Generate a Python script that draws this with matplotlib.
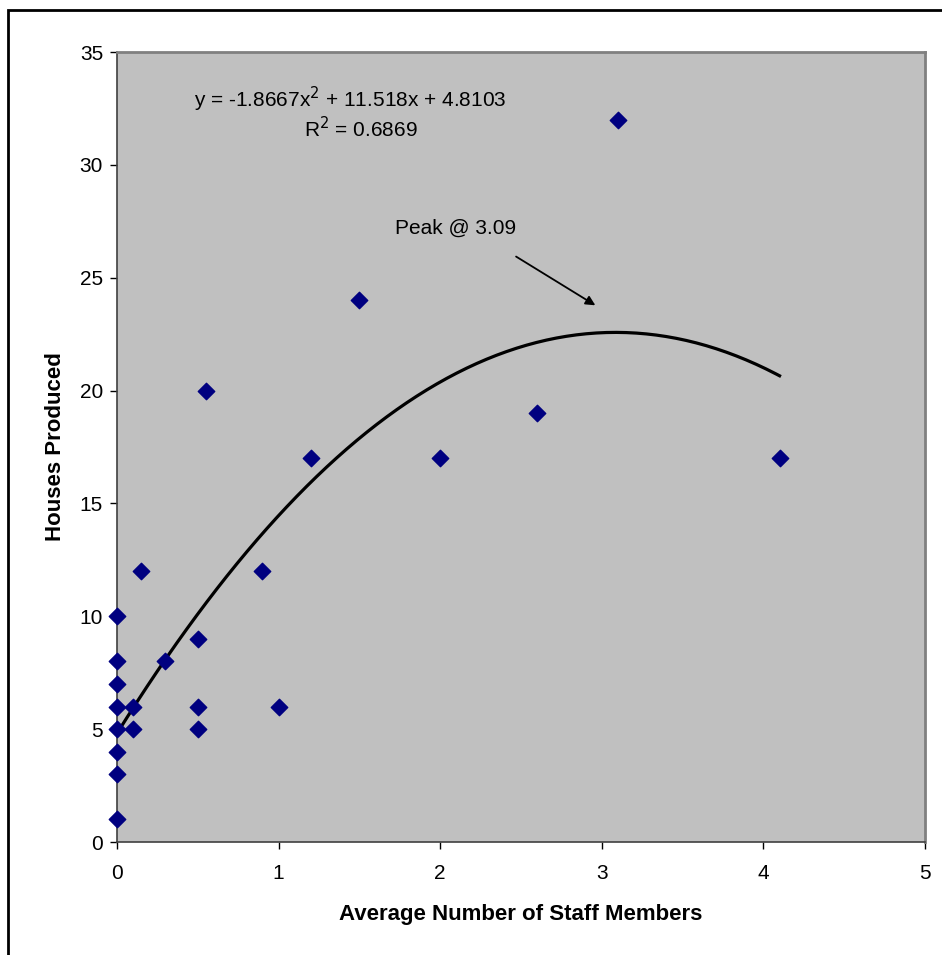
import numpy as np
import matplotlib
matplotlib.use('Agg')
import matplotlib.pyplot as plt
from matplotlib.patches import Rectangle

plt.rcParams['font.family'] = ['Liberation Sans', 'DejaVu Sans']

# staff members vs houses produced
staff = [0, 0, 0, 0, 0, 0, 0, 0, 0.1, 0.1, 0.15, 0.3, 0.5, 0.5, 0.5, 0.55,
         0.9, 1.0, 1.2, 1.5, 2.0, 2.6, 3.1, 4.1]
houses = [10, 8, 7, 6, 5, 4, 3, 1, 6, 5, 12, 8, 9, 6, 5, 20,
          12, 6, 17, 24, 17, 19, 32, 17]

# trendline coefficients (as printed on chart)
coef = [-1.8667, 11.518, 4.8103]
r2 = 0.6869
peak_x = 3.09

fig = plt.figure(figsize=(9.42, 9.55), dpi=100)
ax = fig.add_axes([117 / 942, 113 / 955, 808 / 942, 790 / 955])
ax.set_facecolor('#C0C0C0')

ax.scatter(staff, houses, marker='D', s=70, color='#000080', zorder=3,
           clip_on=False)

xs = np.linspace(0, max(staff), 200)
ax.plot(xs, np.polyval(coef, xs), color='black', lw=2.3, zorder=2)

ax.set_xlim(0, 5)
ax.set_ylim(0, 35)
ax.set_xticks(range(0, 6))
ax.set_yticks(range(0, 36, 5))
ax.tick_params(direction='out', length=5, width=1, labelsize=15, pad=11,
               colors='black')
ax.tick_params(axis='y', pad=5)

for side in ['top', 'right']:
    ax.spines[side].set_color('#808080')
    ax.spines[side].set_linewidth(2)
for side in ['left', 'bottom']:
    ax.spines[side].set_color('#404040')
    ax.spines[side].set_linewidth(1.2)

ax.set_xlabel('Average Number of Staff Members', fontsize=16, fontweight='bold',
              labelpad=15)
ax.set_ylabel('Houses Produced', fontsize=16, fontweight='bold', labelpad=10)

ax.text(1.44, 32.9, 'y = %.4fx$^2$ + %.3fx + %.4f' % (coef[0], coef[1], coef[2]),
        fontsize=15, ha='center', va='center')
ax.text(1.51, 31.6, 'R$^2$ = %.4f' % r2, fontsize=15, ha='center', va='center')

peak_y = np.polyval(coef, peak_x)
ax.annotate('Peak @ %.2f' % peak_x, xy=(2.96, peak_y + 1.2), xytext=(1.72, 27.2),
            fontsize=15, ha='left', va='center',
            arrowprops=dict(arrowstyle='-|>', color='black', lw=1.3,
                            mutation_scale=14, shrinkA=0, shrinkB=0,
                            relpos=(1.0, -1.0)))

# outer chart frame
fig.patches.append(Rectangle((8 / 942, -0.05), 1.1, 945 / 955 + 0.05,
                             transform=fig.transFigure, fill=False,
                             edgecolor='black', lw=2))

fig.savefig('out.png', dpi=100)
